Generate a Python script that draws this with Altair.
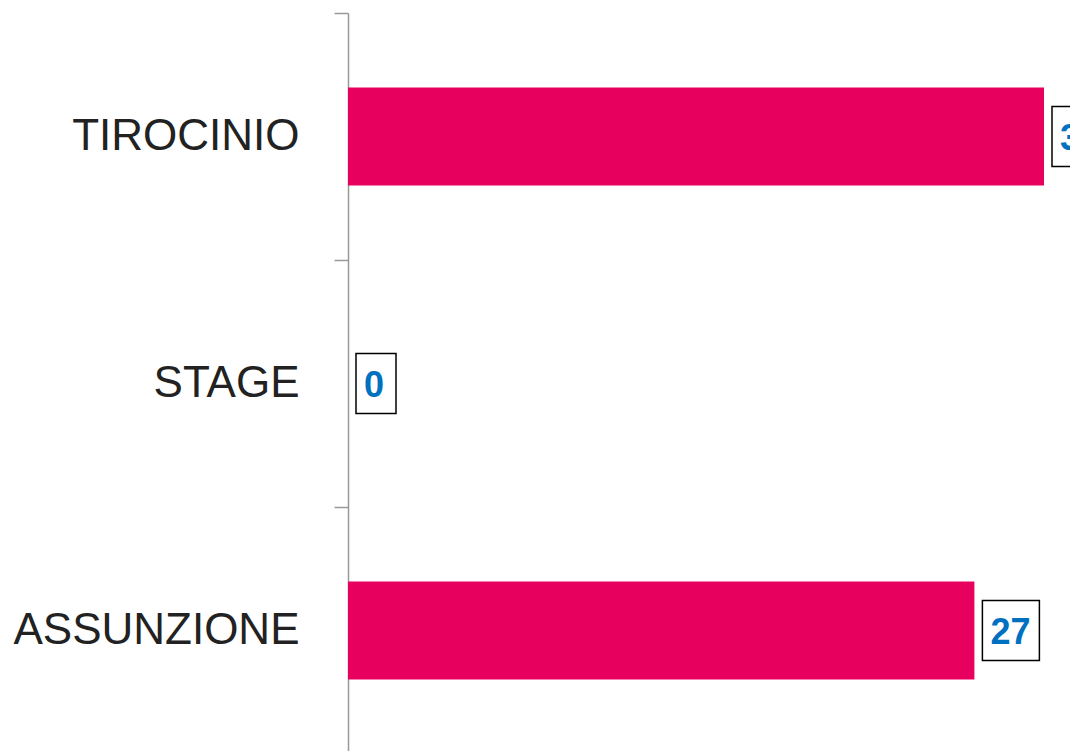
import altair as alt
import pandas as pd

categories = ["TIROCINIO", "STAGE", "ASSUNZIONE"]
values = [30, 0, 27]
labels = ["30", "0", "27"]

df = pd.DataFrame({"cat": categories, "value": values, "label": labels})

y_enc = alt.Y(
    "cat:N",
    sort=categories,
    title=None,
    scale=alt.Scale(paddingInner=0, paddingOuter=0, range=[0, 741]),
    axis=alt.Axis(
        tickBand="extent",
        labelFontSize=44,
        labelFont="Liberation Sans",
        labelColor="#222222",
        labelPadding=35,
        tickSize=14,
        tickColor="#999999",
        domainColor="#999999",
        tickWidth=1.5,
        domainWidth=1.5,
        labelLimit=400,
    ),
)
x_enc = alt.X(
    "value:Q",
    title=None,
    scale=alt.Scale(domain=[0, 30], nice=False),
    axis=None,
)

bars = alt.Chart(df).mark_bar(size=98, color="#E8005E").encode(x=x_enc, y=y_enc)

boxes = alt.Chart(df).mark_bar(
    size=60,
    fill="white",
    stroke="black",
    strokeWidth=1.5,
    xOffset=8,
    x2Offset=alt.ExprRef("datum.value >= 10 ? 65 : 48"),
).encode(x=x_enc, x2="value:Q", y=y_enc)

text = alt.Chart(df).mark_text(
    align="left",
    baseline="middle",
    dx=16,
    dy=2,
    fontSize=36,
    fontWeight="bold",
    font="Liberation Sans",
    color="#0070C0",
).encode(x=x_enc, y=y_enc, text="label:N")

chart = (
    (bars + boxes + text)
    .properties(
        width=696,
        height=738,
        autosize=alt.AutoSizeParams(type="none"),
        padding={"left": 340, "top": 5, "right": 26, "bottom": 0},
    )
    .configure_view(stroke=None)
)

chart.save("out.html", embed_options={"renderer": "svg", "actions": False})
